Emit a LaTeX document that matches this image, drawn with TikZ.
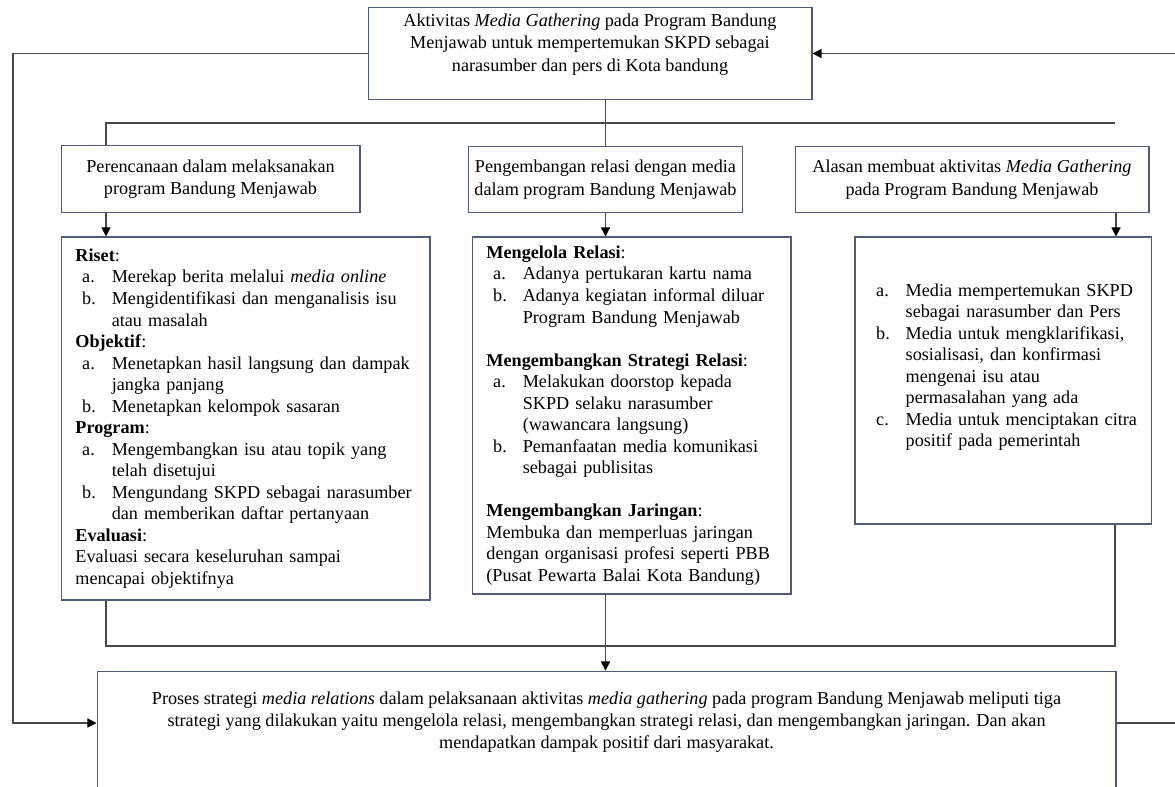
\documentclass[tikz,border=0pt]{standalone}
\usepackage{fontspec}
\setmainfont{Liberation Serif}
\usepackage{xcolor}
\usepackage{tikz}
\usetikzlibrary{arrows.meta,calc,positioning}
\definecolor{boxedge}{RGB}{78,92,122}
\definecolor{linegray}{RGB}{72,72,72}
\newcommand{\litem}[2]{\makebox[24pt][l]{\hspace{4.5pt}#1}\mbox{#2}}
\newcommand{\lcont}[1]{\hspace*{24pt}\mbox{#1}}
\tikzset{
  head/.style={draw=boxedge, line width=0.7pt, fill=white, align=center, font=\fontsize{12}{14.8}\selectfont, inner sep=4pt},
  topic/.style={head, minimum height=44pt},
  detail/.style={draw=boxedge, line width=0.7pt, fill=white, align=left, font=\fontsize{12}{14.2}\selectfont, inner xsep=9.5pt, inner ysep=4pt},
  link/.style={draw=linegray, line width=0.8pt},
  flow/.style={link, -{Triangle[length=6pt,width=6pt,black]}}
}

\begin{document}
\begin{tikzpicture}[x=0.66pt,y=-0.66pt]
  \useasboundingbox (0,0) rectangle (1175,787);

  \node[head, minimum width=293pt, minimum height=58.7pt] (top) at (590,53.5)
    {Aktivitas \textit{Media Gathering} pada Program Bandung\\Menjawab untuk mempertemukan SKPD sebagai\\narasumber dan pers di Kota bandung\\[0pt]\mbox{}};

  \node[topic, minimum width=197.3pt] (plan) at (210.5,179) {Perencanaan dalam melaksanakan\\program Bandung Menjawab};
  \node[topic, minimum width=180.2pt] (relasi) at (605.5,179.5) {Pengembangan relasi dengan media\\dalam program Bandung Menjawab};
  \node[topic, minimum width=233.6pt] (alasan) at (972,179.5) {Alasan membuat aktivitas \textit{Media Gathering}\\pada Program Bandung Menjawab};

  \node[detail, text width=224.5pt, minimum height=239.6pt] (riset) at (245.5,418.5)
    {\textbf{Riset}:\\
     \litem{a.}{Merekap berita melalui \textit{media online}}\\
     \litem{b.}{Mengidentifikasi dan menganalisis isu}\\
     \lcont{atau masalah}\\
     \textbf{Objektif}:\\
     \litem{a.}{Menetapkan hasil langsung dan dampak}\\
     \lcont{jangka panjang}\\
     \litem{b.}{Menetapkan kelompok sasaran}\\
     \textbf{Program}:\\
     \litem{a.}{Mengembangkan isu atau topik yang}\\
     \lcont{telah disetujui}\\
     \litem{b.}{Mengundang SKPD sebagai narasumber}\\
     \lcont{dan memberikan daftar pertanyaan}\\
     \textbf{Evaluasi}:\\
     Evaluasi secara keseluruhan sampai\\
     mencapai objektifnya};

  \node[detail, text width=191.5pt, minimum height=235.6pt] (kelola) at (631.5,415.5)
    {\textbf{Mengelola Relasi}:\\
     \litem{a.}{Adanya pertukaran kartu nama}\\
     \litem{b.}{Adanya kegiatan informal diluar}\\
     \lcont{Program Bandung Menjawab}\\[14.2pt]
     \textbf{Mengembangkan Strategi Relasi}:\\
     \litem{a.}{Melakukan doorstop kepada}\\
     \lcont{SKPD selaku narasumber}\\
     \lcont{(wawancara langsung)}\\
     \litem{b.}{Pemanfaatan media komunikasi}\\
     \lcont{sebagai publisitas}\\[14.2pt]
     \textbf{Mengembangkan Jaringan}:\\
     Membuka dan memperluas jaringan\\
     dengan organisasi profesi seperti PBB\\
     (Pusat Pewarta Balai Kota Bandung)};

  \node[detail, text width=176.4pt, minimum height=189.4pt] (media) at (1003,380.5)
    {\litem{a.}{Media mempertemukan SKPD}\\
     \lcont{sebagai narasumber dan Pers}\\
     \litem{b.}{Media untuk mengklarifikasi,}\\
     \lcont{sosialisasi, dan konfirmasi}\\
     \lcont{mengenai isu atau}\\
     \lcont{permasalahan yang ada}\\
     \litem{c.}{Media untuk menciptakan citra}\\
     \lcont{positif pada pemerintah}\\[6pt]
     \mbox{}};

  \node[head, font=\fontsize{12}{14.2}\selectfont, minimum width=672.5pt, minimum height=85pt] (hasil) at (606.5,735.5)
    {Proses strategi \textit{media relations} dalam pelaksanaan aktivitas \textit{media gathering} pada program Bandung Menjawab meliputi tiga\\
     strategi yang dilakukan yaitu mengelola relasi, mengembangkan strategi relasi, dan mengembangkan jaringan. Dan akan\\
     mendapatkan dampak positif dari masyarakat.\\[6pt]\mbox{}};

  % helper points for the bends
  \coordinate (xl) at (106,0);
  \coordinate (xr) at (1116,0);
  \coordinate (busL) at (106,123);
  \coordinate (busR) at (1115,123);
  \coordinate (lowL) at (106,646);
  \coordinate (lowR) at (1115,646);
  \coordinate (loopL) at (13,53.5);
  \coordinate (loopB) at (13,723);
  \coordinate (rin) at (1175,53.5);
  \coordinate (rout) at (1175,723);

  \draw[link] (top.south -| relasi.north) -- (relasi.north);
  \draw[link] (plan.north -| busL) -- (busL) -- (busR);

  \draw[flow] (plan.south -| xl) -- (riset.north -| xl);
  \draw[flow] (relasi.south) -- (relasi.south |- kelola.north);
  \draw[flow] (alasan.south -| xr) -- (media.north -| xr);

  \draw[link] (riset.south -| lowL) -- (lowL) -- (lowR) -- (media.south -| lowR);
  \draw[flow] (kelola.south -| relasi.south) -- (hasil.north -| relasi.south);

  \draw[flow] (top.west) -- (loopL) -- (loopB) -- (hasil.west |- loopB);
  \draw[flow] (rin) -- (top.east);
  \draw[link] (hasil.east |- rout) -- (rout);
\end{tikzpicture}
\end{document}
